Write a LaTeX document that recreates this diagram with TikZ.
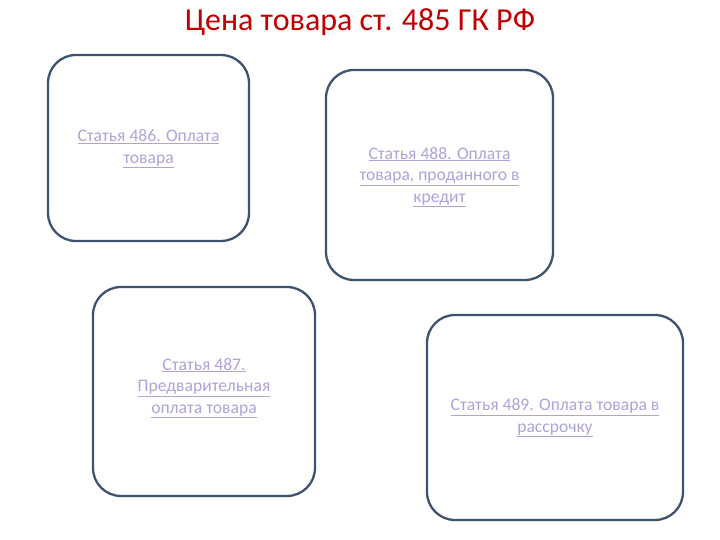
\documentclass[tikz,border=0pt]{standalone}
\usepackage{fontspec}
\setmainfont{Carlito}
\definecolor{boxline}{HTML}{3F5370}
\definecolor{linktext}{HTML}{A9A6DA}
\definecolor{titlered}{HTML}{C00000}
\newcommand{\ulline}[1]{\underline{#1}}
\begin{document}
\begin{tikzpicture}[x=1pt,y=1pt,
  card/.style={draw=boxline, line width=2.3pt, rounded corners=28pt, fill=white},
  cardtext/.style={text=linktext, font=\fontsize{17.6}{21.5}\selectfont, align=center}]
\useasboundingbox (0,0) rectangle (720,540);
\node[text=titlered, font=\fontsize{32}{36}\selectfont] (title) at (360,518) {Цена товара ст. 485 ГК РФ};
% boxes
\draw[card] (48,299) rectangle (249,485);
\draw[card] (326,260) rectangle (553,470);
\draw[card] (93,44) rectangle (315,253);
\draw[card] (427,20) rectangle (683,225);
\node[cardtext] (t1) at (148.5,391) {\ulline{Статья 486. Оплата}\\\ulline{товара}};
\node[cardtext] (t2) at (439.5,363) {\ulline{Статья 488. Оплата}\\\ulline{товара, проданного в}\\\ulline{кредит}};
\node[cardtext] (t3) at (204,152) {\ulline{Статья 487.}\\\ulline{Предварительная}\\\ulline{оплата товара}};
\node[cardtext] (t4) at (555,122) {\ulline{Статья 489. Оплата товара в}\\\ulline{рассрочку}};
\end{tikzpicture}
\end{document}
